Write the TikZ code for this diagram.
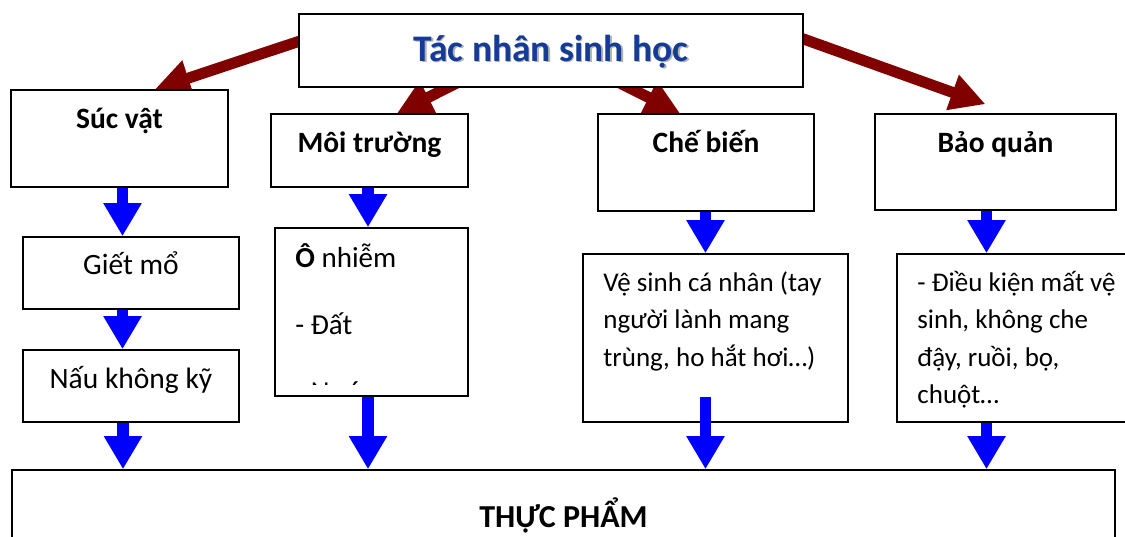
\documentclass[tikz,border=0pt]{standalone}
\usepackage{fontspec}
\setmainfont{Carlito}
\usetikzlibrary{arrows.meta,backgrounds}
\definecolor{titleblue}{RGB}{20,60,150}
\definecolor{darkred}{RGB}{128,0,0}
\newcommand{\shadowed}[1]{\makebox[0pt][l]{\kern1.5pt\raisebox{-1.5pt}{\color{black!30}#1}}#1}
\tikzset{
	box/.style={draw, line width=1.6pt, fill=white, inner sep=0pt},
	txt/.style={inner sep=0pt, font=\fontsize{29.5}{37.5}\selectfont},
	para/.style={inner sep=0pt, align=left, font=\fontsize{27}{37.5}\selectfont},
	bold/.style={inner sep=0pt, font=\bfseries\fontsize{29.5}{37.5}\selectfont},
	cause/.style={darkred, line width=11pt, -{Triangle[length=35pt,width=35pt]}},
	flow/.style={blue, line width=11.5pt, -{Triangle[length=33pt,width=36pt]}}
}

\begin{document}
\begin{tikzpicture}[x=1pt,y=-1pt]
	\useasboundingbox (0,0) rectangle (1125,537);
	\clip (0,0) rectangle (1125,537);
	\node (tacnhan) [box, minimum width=504pt, minimum height=73pt] at (551,50.5) {};
	\node (sucvat) [box, minimum width=217pt, minimum height=97pt] at (119.5,138.5) {};
	\node (moitruong) [box, minimum width=197pt, minimum height=73pt] at (369.5,150.5) {};
	\node (chebien) [box, minimum width=216pt, minimum height=97pt] at (706,162.5) {};
	\node (baoquan) [box, minimum width=241pt, minimum height=96pt] at (995.5,162) {};
	\node (gietmo) [box, minimum width=216pt, minimum height=72pt] at (131,273) {};
	\node (naukhong) [box, minimum width=216pt, minimum height=72pt] at (131,386) {};
	\node (onhiem) [box, minimum width=193pt, minimum height=168pt] at (371.5,312) {};
	\node (vesinh) [box, minimum width=265pt, minimum height=168pt] at (715.5,338) {};
	\node (dieukien) [box, minimum width=243pt, minimum height=168pt] at (1018.5,338) {};
	\node (thucpham) [box, minimum width=1103pt, minimum height=90pt] at (563.5,515) {};

	\node (tacnhan-t) [inner sep=0pt, anchor=base, text=titleblue, font=\bfseries\fontsize{37.5}{44}\selectfont] at ([yshift=-48pt]tacnhan.north) {\shadowed{Tác nhân sinh học}};
	\node (sucvat-t) [bold, anchor=base] at ([yshift=-39pt]sucvat.north) {Súc vật};
	\node (moitruong-t) [bold, anchor=base] at ([yshift=-39pt]moitruong.north) {Môi trường};
	\node (chebien-t) [bold, anchor=base] at ([yshift=-39pt]chebien.north) {Chế biến};
	\node (baoquan-t) [bold, anchor=base] at ([yshift=-39pt]baoquan.north) {Bảo quản};
	\node (gietmo-t) [txt, anchor=base] at ([yshift=-38pt]gietmo.north) {Giết mổ};
	\node (naukhong-t) [txt, anchor=base] at ([yshift=-39pt]naukhong.north) {Nấu không kỹ};
	\begin{scope}
		\clip (onhiem.north west) rectangle ([yshift=12pt]onhiem.south east);
		\node (onhiem-t) [txt, anchor=base west, align=left, font=\fontsize{29}{67}\selectfont] at ([xshift=21pt,yshift=-174pt]onhiem.north west) {\textbf{Ô} nhiễm\\- Đất\\- Nước};
	\end{scope}
	\node (vesinh-t) [para, anchor=base west] at ([xshift=21pt,yshift=-113pt]vesinh.north west) {Vệ sinh cá nhân (tay\\người lành mang\\trùng, ho hắt hơi…)};
	\node (dieukien-t) [para, anchor=base west] at ([xshift=21pt,yshift=-150.5pt]dieukien.north west) {- Điều kiện mất vệ\\sinh, không che\\đậy, ruồi, bọ,\\chuột…};
	\node (thucpham-t) [inner sep=0pt, anchor=base, font=\bfseries\fontsize{32}{38}\selectfont] at ([yshift=-58pt]thucpham.north) {THỰC PHẨM};

	\draw[flow] ([xshift=3pt]sucvat.south) -- ([xshift=3pt]sucvat.south |- gietmo.north);
	\draw[flow] ([xshift=-8.5pt]gietmo.south) -- ([xshift=-8.5pt]gietmo.south |- naukhong.north);
	\draw[flow] ([xshift=-8pt]naukhong.south) -- ([xshift=-8pt]naukhong.south |- thucpham.north);
	\draw[flow] ([xshift=-1.5pt]moitruong.south) -- ([xshift=-1.5pt]moitruong.south |- onhiem.north);
	\draw[flow] ([xshift=-3.5pt]onhiem.south) -- ([xshift=-3.5pt]onhiem.south |- thucpham.north);
	\draw[flow] ([xshift=-0.5pt]chebien.south) -- ([xshift=-0.5pt]chebien.south |- vesinh.north);
	\draw[flow] ([xshift=-10pt,yshift=26pt]vesinh.south) -- ([xshift=-10pt]vesinh.south |- thucpham.north);
	\draw[flow] ([xshift=-9pt]baoquan.south) -- ([xshift=-9pt]baoquan.south |- dieukien.north);
	\draw[flow] ([xshift=-32pt]dieukien.south) -- ([xshift=-32pt]dieukien.south |- thucpham.north);

	\begin{pgfonlayer}{background}
		\draw[cause] ([xshift=-221pt,yshift=19.5pt]tacnhan.center) -- ([xshift=35.5pt]sucvat.north);
		\draw[cause] ([xshift=-30pt]tacnhan.center) -- ([xshift=27.5pt]moitruong.north);
		\draw[cause] ([xshift=4pt]tacnhan.center) -- ([xshift=-26pt]chebien.north);
		\draw[cause] ([xshift=219pt,yshift=23.5pt]tacnhan.center) -- ([xshift=-10pt,yshift=9pt]baoquan.north);
	\end{pgfonlayer}
\end{tikzpicture}
\end{document}
